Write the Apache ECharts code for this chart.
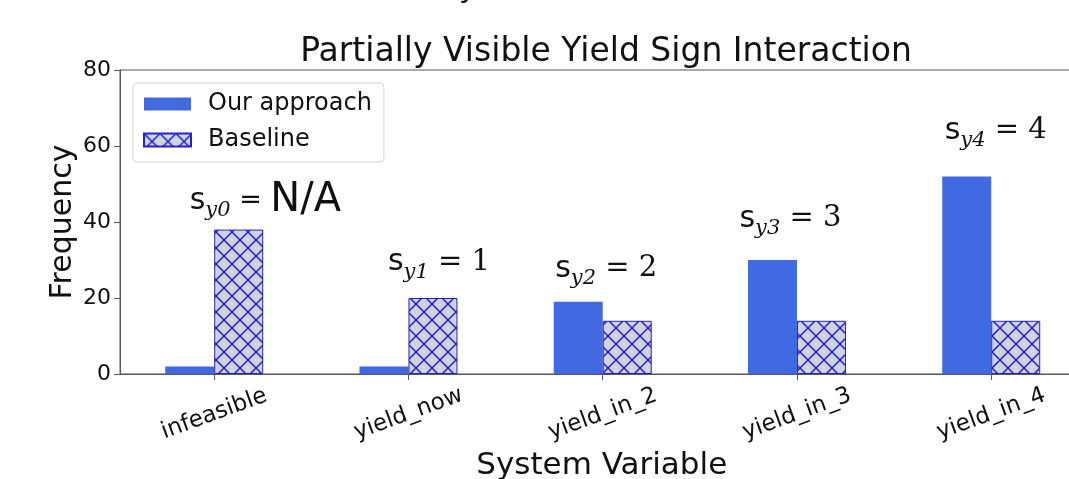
<!DOCTYPE html>
<html>
<head>
<meta charset="utf-8">
<script src="https://cdn.jsdelivr.net/npm/echarts@6/dist/echarts.min.js"></script>
<style>
html,body{margin:0;padding:0;background:#fff;}
#c{width:1069px;height:479px;}
</style>
</head>
<body>
<div id="c"></div>
<script>
const categories = ['infeasible', 'yield_now', 'yield_in_2', 'yield_in_3', 'yield_in_4'];
const ourApproach = [2, 2, 19, 30, 52];
const baseline = [38, 20, 14, 14, 14];
const yTicks = [0, 20, 40, 60, 80];
const annotSub = ['y0', 'y1', 'y2', 'y3', 'y4'];
const annotVal = ['N/A', '1', '2', '3', '4'];

const FONT = '"DejaVu Sans", sans-serif';
const SERIF = '"DejaVu Serif", serif';

function hatch() {
  const s = 16;
  const cv = document.createElement('canvas');
  cv.width = s; cv.height = s;
  const g = cv.getContext('2d');
  g.fillStyle = '#d0d3da';
  g.fillRect(0, 0, s, s);
  g.strokeStyle = '#2020c8';
  g.lineWidth = 1.5;
  g.beginPath();
  g.moveTo(-2, -2); g.lineTo(s + 2, s + 2);
  g.moveTo(-2, s + 2); g.lineTo(s + 2, -2);
  g.stroke();
  return cv;
}
const hatchCanvas = hatch();

// annotation anchors: [category index, y level, x pixel offset of left edge from the baseline bar centre]
const annotPos = [[0, 45.5, -49], [1, 29.3, -45], [2, 27.7, -72], [3, 40.8, -82], [4, 64, -71]];

const chart = echarts.init(document.getElementById('c'), null, {renderer: 'canvas'});

const catIdx = categories.map((c, i) => i);
const ourData = ourApproach.map((v, i) => [i, v]);
const baseData = baseline.map((v, i) => [i, v]);

const markData = annotPos.map((p, i) => {
  const isNA = annotVal[i] === 'N/A';
  return {
    coord: [p[0], p[1]],
    label: {
      offset: [p[2], 0],
      formatter: isNA
        ? '{s|s}{sub|' + annotSub[i] + '}{eqs| = }{na|N/A}'
        : '{s|s}{sub|' + annotSub[i] + '}{eq| = ' + annotVal[i] + '}'
    }
  };
});

chart.setOption({
  animation: false,
  backgroundColor: '#fff',
  textStyle: {fontFamily: FONT},
  title: {
    text: 'Partially Visible Yield Sign Interaction',
    left: 601, textAlign: 'center',
    top: 31,
    textStyle: {fontFamily: FONT, fontSize: 33, fontWeight: 'normal', color: '#111'}
  },
  graphic: [{
    type: 'text', left: 440, top: -26,
    style: {text: 'System Variable', font: '30px ' + FONT, fill: '#111'}
  }],
  legend: {
    left: 133, top: 83,
    orient: 'vertical',
    icon: 'rect',
    itemWidth: 47, itemHeight: 13,
    itemGap: 12,
    padding: [9, 12, 10, 10],
    borderColor: '#d4d4d4', borderWidth: 1, borderRadius: 4,
    backgroundColor: '#fff',
    textStyle: {fontFamily: FONT, fontSize: 24, color: '#111', padding: [0, 0, 0, 12]},
    data: ['Our approach', 'Baseline']
  },
  grid: {
    left: 120, top: 70, width: 963.5, height: 304,
    outerBoundsMode: 'none', containLabel: false,
    show: true, borderColor: '#555', borderWidth: 1, backgroundColor: 'transparent'
  },
  xAxis: {
    type: 'value',
    min: -0.485, max: 4.475,
    splitLine: {show: false},
    axisLine: {onZero: false, lineStyle: {color: '#555'}},
    axisTick: {show: true, customValues: catIdx, length: 6, lineStyle: {color: '#555'}},
    axisLabel: {
      customValues: catIdx,
      rotate: 20, margin: 40, align: 'center', verticalAlign: 'middle',
      fontFamily: FONT, fontSize: 23, color: '#111',
      formatter: v => categories[Math.round(v)]
    },
    name: 'System Variable',
    nameLocation: 'middle', nameGap: 76,
    nameTextStyle: {fontFamily: FONT, fontSize: 31, color: '#111'}
  },
  yAxis: {
    type: 'value', min: 0, max: 80, interval: 20,
    splitLine: {show: false},
    axisLine: {show: true, onZero: false, lineStyle: {color: '#555'}},
    axisTick: {show: true, length: 6, lineStyle: {color: '#555'}},
    axisLabel: {
      fontFamily: FONT, fontSize: 22, color: '#111', margin: 9,
      formatter: v => yTicks.includes(v) ? String(v) : ''
    },
    name: 'Frequency',
    nameLocation: 'middle', nameGap: 42, nameMoveOverlap: false,
    nameTextStyle: {fontFamily: FONT, fontSize: 30, color: '#111'}
  },
  series: [
    {
      name: 'Our approach', type: 'bar', data: ourData,
      barWidth: 49, barGap: '0%',
      itemStyle: {color: '#4169e1'}
    },
    {
      name: 'Baseline', type: 'bar', data: baseData,
      barWidth: 49, barGap: '0%',
      itemStyle: {color: {image: hatchCanvas, repeat: 'repeat'}, borderColor: '#2222cc', borderWidth: 1},
      markPoint: {
        symbol: 'circle', symbolSize: 0,
        label: {
          show: true, position: 'inside', align: 'left', verticalAlign: 'middle', color: '#111',
          rich: {
            s: {fontFamily: FONT, fontSize: 30, color: '#111', verticalAlign: 'middle', lineHeight: 40},
            sub: {fontFamily: SERIF, fontStyle: 'italic', fontSize: 21, color: '#111', verticalAlign: 'bottom', lineHeight: 40},
            eq: {fontFamily: SERIF, fontSize: 29, color: '#111', verticalAlign: 'middle', lineHeight: 40},
            eqs: {fontFamily: FONT, fontSize: 27, color: '#111', verticalAlign: 'middle', lineHeight: 40},
            na: {fontFamily: FONT, fontSize: 40, color: '#111', verticalAlign: 'middle', lineHeight: 40}
          }
        },
        data: markData
      }
    }
  ]
});
</script>
</body>
</html>
